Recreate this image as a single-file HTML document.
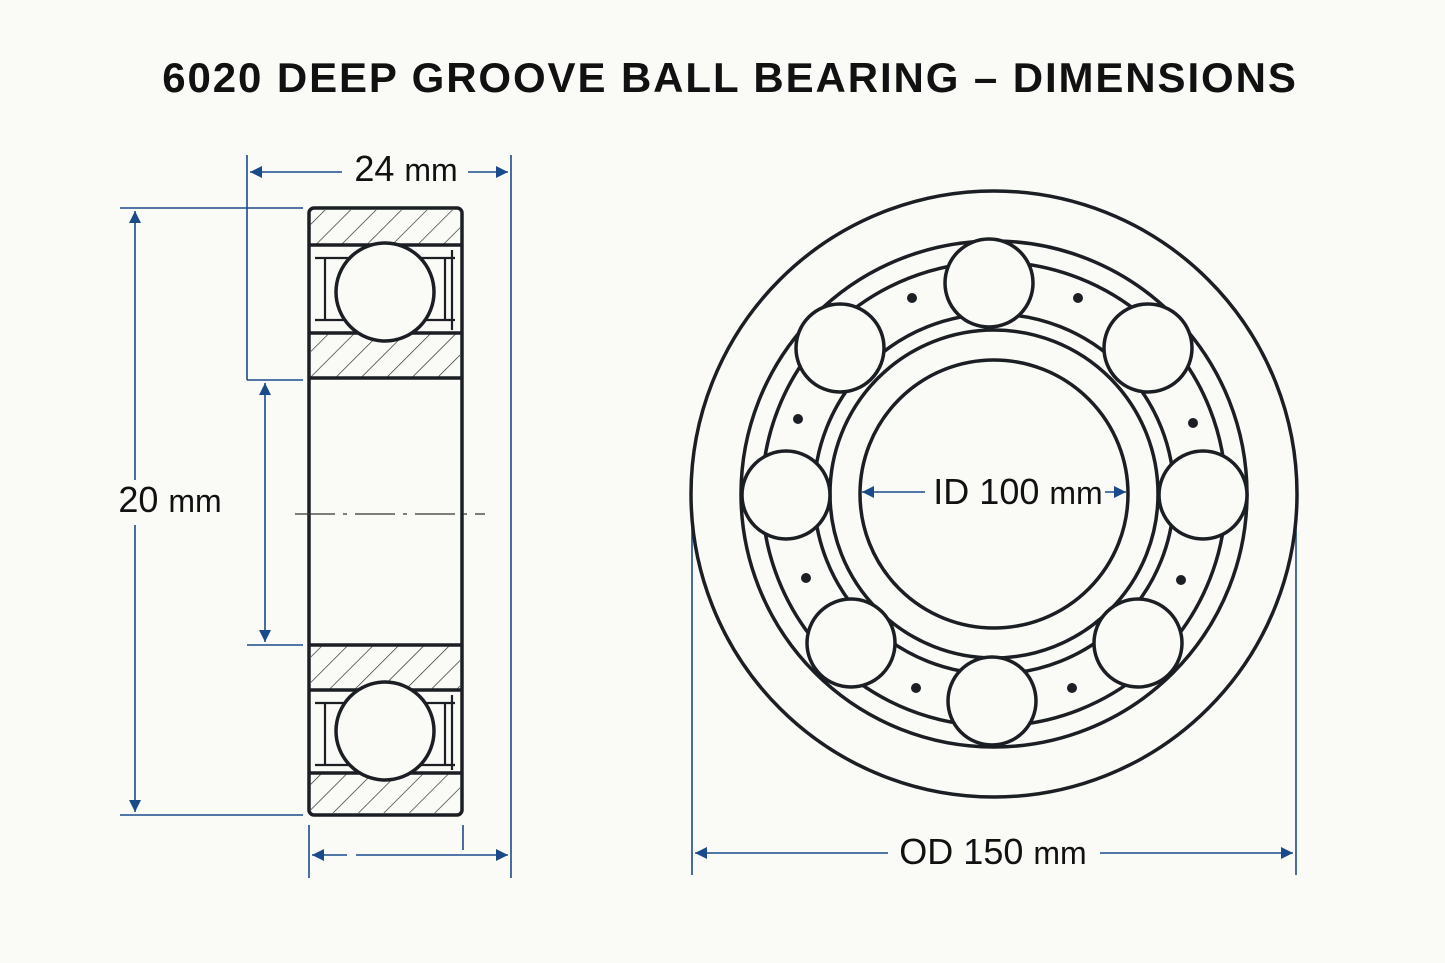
<!DOCTYPE html><html><head><style>body{margin:0;background:#fafaf7}svg{display:block}text{font-family:"Liberation Sans",sans-serif;fill:#111}</style></head><body>
<svg width="1445" height="963" viewBox="0 0 1445 963">
<defs>
<pattern id="h" width="18" height="18" patternUnits="userSpaceOnUse" patternTransform="rotate(45)"><line x1="0" y1="0" x2="0" y2="18" stroke="#222" stroke-width="1.3"/></pattern>
<marker id="a" viewBox="0 0 10 10" refX="10" refY="5" markerWidth="20" markerHeight="12" markerUnits="userSpaceOnUse" orient="auto-start-reverse"><path d="M0,0L10,5L0,10z" fill="#1a4a8a"/></marker>
</defs>
<text x="730" y="92" text-anchor="middle" font-size="42" font-weight="bold" letter-spacing="1.9">6020 DEEP GROOVE BALL BEARING – DIMENSIONS</text>
<g stroke="#1a4a8a" stroke-width="1.6" fill="none">
<line x1="247" y1="155" x2="247" y2="380"/><line x1="511" y1="155" x2="511" y2="878"/>
<line x1="250" y1="172" x2="342" y2="172" marker-start="url(#a)"/><line x1="468" y1="172" x2="508" y2="172" marker-end="url(#a)"/>
<line x1="120" y1="208" x2="303" y2="208"/><line x1="120" y1="815" x2="303" y2="815"/>
<line x1="135" y1="211" x2="135" y2="480" marker-start="url(#a)"/><line x1="135" y1="525" x2="135" y2="812" marker-end="url(#a)"/>
<line x1="247" y1="380" x2="303" y2="380"/><line x1="247" y1="645" x2="303" y2="645"/>
<line x1="265" y1="383" x2="265" y2="642" marker-start="url(#a)" marker-end="url(#a)"/>
<line x1="309" y1="825" x2="309" y2="878"/><line x1="463" y1="825" x2="463" y2="850"/>
<line x1="312" y1="855" x2="347" y2="855" marker-start="url(#a)"/><line x1="356" y1="855" x2="508" y2="855" marker-end="url(#a)"/>
<line x1="692" y1="520" x2="692" y2="875"/><line x1="1296" y1="520" x2="1296" y2="875"/>
<line x1="695" y1="853" x2="888" y2="853" marker-start="url(#a)"/><line x1="1100" y1="853" x2="1293" y2="853" marker-end="url(#a)"/>
<line x1="862" y1="492" x2="925" y2="492" marker-start="url(#a)"/><line x1="1105" y1="492" x2="1126" y2="492" marker-end="url(#a)"/>
</g>
<text x="406" y="181" text-anchor="middle" font-size="36">24 <tspan font-size="32">mm</tspan></text>
<text x="170" y="512" text-anchor="middle" font-size="36">20 <tspan font-size="32">mm</tspan></text>
<text x="993" y="864" text-anchor="middle" font-size="36">OD 150 <tspan font-size="32">mm</tspan></text>
<text x="1018" y="504" text-anchor="middle" font-size="36">ID 100 <tspan font-size="32">mm</tspan></text>
<g stroke="#1b1f24" stroke-width="3.5" fill="none">
<rect x="309" y="208" width="153" height="607" rx="5"/>
<rect x="311" y="210" width="149" height="35" fill="url(#h)" stroke="none"/>
<line x1="309" y1="245" x2="462" y2="245"/>
<rect x="311" y="334" width="149" height="44" fill="url(#h)" stroke-width="0"/>
<line x1="309" y1="333" x2="462" y2="333"/><line x1="309" y1="378" x2="462" y2="378"/>
<line x1="309" y1="645" x2="462" y2="645"/>
<rect x="311" y="646" width="149" height="44" fill="url(#h)" stroke-width="0"/>
<line x1="309" y1="690" x2="462" y2="690"/>
<rect x="311" y="773" width="149" height="40" fill="url(#h)" stroke-width="0"/>
<line x1="309" y1="773" x2="462" y2="773"/>
<g stroke-width="2.2"><line x1="315" y1="258" x2="455" y2="258"/><line x1="315" y1="320" x2="455" y2="320"/><line x1="325" y1="258" x2="325" y2="320"/><line x1="445" y1="258" x2="445" y2="320"/><line x1="452" y1="250" x2="452" y2="330"/>
<line x1="315" y1="703" x2="455" y2="703"/><line x1="315" y1="765" x2="455" y2="765"/><line x1="325" y1="703" x2="325" y2="765"/><line x1="445" y1="703" x2="445" y2="765"/><line x1="452" y1="695" x2="452" y2="770"/></g>
<circle cx="385" cy="292" r="49" fill="#fafaf7"/><circle cx="385" cy="731" r="49" fill="#fafaf7"/>
</g>
<line x1="295" y1="514" x2="485" y2="514" stroke="#333" stroke-width="1.2" stroke-dasharray="40,8,4,8"/>
<g stroke="#1b1f24" stroke-width="3.5" fill="none">
<circle cx="994" cy="494" r="303"/><circle cx="994" cy="494" r="253"/><circle cx="994" cy="494" r="232"/><circle cx="994" cy="494" r="180"/><circle cx="994" cy="494" r="164"/><circle cx="994" cy="494" r="134"/>
<g fill="#fafaf7">
<circle cx="989" cy="283" r="44"/><circle cx="1148" cy="348" r="44"/><circle cx="1203" cy="495" r="44"/><circle cx="1138" cy="643" r="44"/><circle cx="992" cy="701" r="44"/><circle cx="851" cy="643" r="44"/><circle cx="786" cy="495" r="44"/><circle cx="840" cy="348" r="44"/></g>
</g>
<g fill="#1b1f24"><circle cx="912" cy="298" r="5"/><circle cx="1078" cy="298" r="5"/><circle cx="1193" cy="423" r="5"/><circle cx="1181" cy="580" r="5"/><circle cx="1072" cy="688" r="5"/><circle cx="916" cy="688" r="5"/><circle cx="806" cy="578" r="5"/><circle cx="798" cy="419" r="5"/></g>
</svg></body></html>
